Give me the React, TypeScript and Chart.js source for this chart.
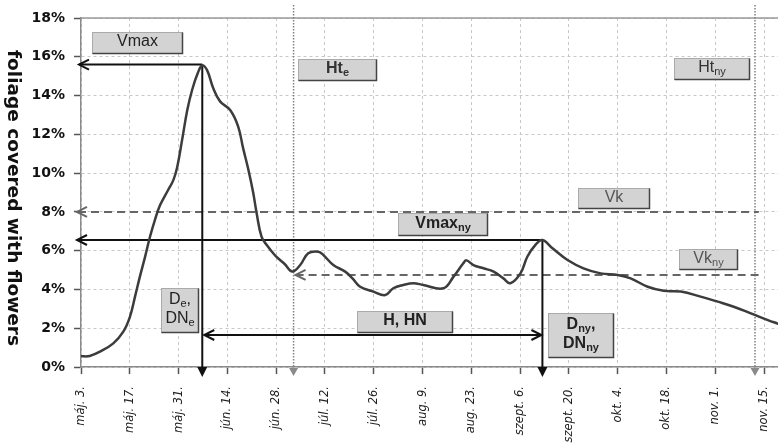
import React, { useEffect, useRef } from "react";
import { Chart, registerables } from "chart.js";

Chart.register(...registerables);

// Days counted from máj. 3.
const dayOffsets = [
  0, 2.5, 5.45, 9.27, 12.14, 14.06, 15.5, 16.9, 18.4, 19.8, 21.2, 22.7, 25.0, 26.5, 27.6, 29.0, 30.5, 31.9,
  33.6, 34.8, 36.2, 37.9, 39.9, 42.8, 45.1, 46.5, 48.0, 49.4, 50.4, 51.8, 53.3, 55.7, 57.1, 58.5, 60.6, 62.9,
  65.2, 68.1, 69.5, 72.4, 75.8, 77.9, 80.1, 83.9, 87.3, 89.6, 92.5, 95.4, 98.2, 104.0, 106.9, 109.7,
  110.6, 112.6, 115.5, 118.4, 121.2, 123.2, 126.1, 128.1, 130.4, 132.4, 135.3, 139.6, 144.2, 149.1,
  154.0, 157.7, 162.6, 167.2, 172.1, 177.8, 182.7, 187.3, 192.2, 197.1, 200.2,
];
const coverage = [
  0.55, 0.57, 0.79, 1.22, 1.82, 2.6, 3.63, 4.66, 5.69, 6.72, 7.58, 8.35, 9.13, 9.64, 10.3, 11.7, 13.25, 14.3,
  15.2, 15.55, 15.3, 14.4, 13.7, 13.25, 12.4, 11.3, 10.2, 9.0, 7.93, 6.72, 6.29, 5.75, 5.52, 5.3, 4.92, 5.26,
  5.87, 5.95, 5.78, 5.26, 4.92, 4.57, 4.14, 3.89, 3.71, 4.06, 4.23, 4.32, 4.23, 4.06, 4.66, 5.35,
  5.5, 5.26, 5.09, 4.92, 4.57, 4.32, 4.83, 5.7, 6.3, 6.55, 6.12, 5.52, 5.09, 4.83,
  4.74, 4.57, 4.14, 3.93, 3.89, 3.63, 3.37, 3.11, 2.77, 2.42, 2.22,
];

const xTickDays = [0, 14, 28, 42, 56, 70, 84, 98, 112, 126, 140, 154, 168, 182, 196];
const xTickLabels = [
  "máj. 3.", "máj. 17.", "máj. 31.", "jún. 14.", "jún. 28.", "júl. 12.", "júl. 26.", "aug. 9.",
  "aug. 23.", "szept. 6.", "szept. 20.", "okt. 4.", "okt. 18.", "nov. 1.", "nov. 15.",
];
const yTickValues = [0, 2, 4, 6, 8, 10, 12, 14, 16, 18];
const yTitle = "foliage covered with flowers";

// Key values marked on the chart
const vmaxDay = 34.8;
const vmaxValue = 15.6;
const nyPeakDay = 132.4;
const vmaxNyValue = 6.55;
const vkValue = 8;
const vkNyValue = 4.75;
const hteDay = 61;
const htnyDay = 193.4;
const hArrowValue = 1.65;
const thresholdEndDay = 194.5;

type Seg = [string, boolean];
const boxLabels: { day: number; value: number; w: number; h: number; lines: Seg[][]; bold: boolean; color: string }[] = [
  { day: 3.2, value: 17.28, w: 90, h: 21, lines: [[["Vmax", false]]], bold: false, color: "#222" },
  { day: 62.3, value: 15.88, w: 78, h: 21, lines: [[["Ht", false], ["e", true]]], bold: true, color: "#333" },
  { day: 170.2, value: 15.94, w: 75, h: 21, lines: [[["Ht", false], ["ny", true]]], bold: false, color: "#333" },
  { day: 142.6, value: 9.23, w: 71, h: 20, lines: [[["Vk", false]]], bold: false, color: "#555" },
  { day: 91, value: 7.94, w: 89, h: 22, lines: [[["Vmax", false], ["ny", true]]], bold: true, color: "#222" },
  { day: 171.6, value: 6.09, w: 58, h: 20, lines: [[["Vk", false], ["ny", true]]], bold: false, color: "#555" },
  { day: 79.2, value: 2.89, w: 95, h: 21, lines: [[["H, HN", false]]], bold: true, color: "#222" },
  { day: 23.0, value: 4.07, w: 37, h: 44, lines: [[["D", false], ["e", true], [",", false]], [["DN", false], ["e", true]]], bold: false, color: "#222" },
  { day: 134.0, value: 2.78, w: 65, h: 44, lines: [[["D", false], ["ny", true], [",", false]], [["DN", false], ["ny", true]]], bold: true, color: "#222" },
];

const FONT = '"Liberation Sans", Arial, sans-serif';

function drawRich(ctx: CanvasRenderingContext2D, segs: Seg[], cx: number, cy: number, bold: boolean, color: string) {
  const mainFont = `${bold ? "bold " : ""}16px ${FONT}`;
  const subFont = `${bold ? "bold " : ""}11px ${FONT}`;
  let total = 0;
  segs.forEach(([t, sub]) => {
    ctx.font = sub ? subFont : mainFont;
    total += ctx.measureText(t).width;
  });
  let x = cx - total / 2;
  ctx.textBaseline = "middle";
  ctx.textAlign = "left";
  ctx.fillStyle = color;
  segs.forEach(([t, sub]) => {
    ctx.font = sub ? subFont : mainFont;
    ctx.fillText(t, x, sub ? cy + 4 : cy);
    x += ctx.measureText(t).width;
  });
}

function openArrow(ctx: CanvasRenderingContext2D, tx: number, ty: number, dir: "left" | "right", color: string, lw: number) {
  const s = dir === "left" ? 1 : -1;
  ctx.save();
  ctx.setLineDash([]);
  ctx.strokeStyle = color;
  ctx.lineWidth = lw;
  ctx.beginPath();
  ctx.moveTo(tx + s * 10, ty - 5);
  ctx.lineTo(tx, ty);
  ctx.lineTo(tx + s * 10, ty + 5);
  ctx.stroke();
  ctx.restore();
}

function downTriangle(ctx: CanvasRenderingContext2D, x: number, tipY: number, color: string, hw: number, h: number) {
  ctx.save();
  ctx.fillStyle = color;
  ctx.beginPath();
  ctx.moveTo(x - hw, tipY - h);
  ctx.lineTo(x + hw, tipY - h);
  ctx.lineTo(x, tipY);
  ctx.closePath();
  ctx.fill();
  ctx.restore();
}

const annotationPlugin = {
  id: "annotations",
  beforeDatasetsDraw(chart: any) {
    const ctx: CanvasRenderingContext2D = chart.ctx;
    const xs = chart.scales.x;
    const ys = chart.scales.y;
    const area = chart.chartArea;
    ctx.save();
    // top border
    ctx.strokeStyle = "#999";
    ctx.lineWidth = 1.5;
    ctx.beginPath();
    ctx.moveTo(area.left, ys.getPixelForValue(18));
    ctx.lineTo(area.right, ys.getPixelForValue(18));
    ctx.stroke();

    // dotted Ht lines
    [hteDay, htnyDay].forEach((d) => {
      const x = xs.getPixelForValue(d);
      ctx.strokeStyle = "#808080";
      ctx.lineWidth = 1.5;
      ctx.setLineDash([1.5, 1.5]);
      ctx.beginPath();
      ctx.moveTo(x, 5);
      ctx.lineTo(x, area.bottom + 2);
      ctx.stroke();
      ctx.setLineDash([]);
      downTriangle(ctx, x, area.bottom + 9, "#8a8a8a", 4.5, 8);
    });

    // Vk dashed lines
    const endX = xs.getPixelForValue(thresholdEndDay);
    ctx.strokeStyle = "#666";
    ctx.lineWidth = 2;
    ctx.setLineDash([8, 5]);
    const vkY = ys.getPixelForValue(vkValue);
    ctx.beginPath();
    ctx.moveTo(area.left - 3, vkY);
    ctx.lineTo(endX, vkY);
    ctx.stroke();
    const vknY = ys.getPixelForValue(vkNyValue);
    const hteX = xs.getPixelForValue(hteDay);
    ctx.beginPath();
    ctx.moveTo(hteX + 2, vknY);
    ctx.lineTo(endX, vknY);
    ctx.stroke();
    ctx.setLineDash([]);
    openArrow(ctx, area.left - 4, vkY, "left", "#666", 2);
    openArrow(ctx, hteX + 2, vknY, "left", "#666", 2);

    // Black lines
    ctx.strokeStyle = "#111";
    ctx.lineWidth = 2;
    const vmx = xs.getPixelForValue(vmaxDay);
    const vmy = ys.getPixelForValue(vmaxValue);
    ctx.beginPath();
    ctx.moveTo(area.left - 2, vmy);
    ctx.lineTo(vmx, vmy);
    ctx.moveTo(vmx, vmy);
    ctx.lineTo(vmx, area.bottom + 4);
    ctx.stroke();
    openArrow(ctx, area.left - 2, vmy, "left", "#111", 2);
    downTriangle(ctx, vmx, area.bottom + 10, "#111", 5, 10);

    const nyx = xs.getPixelForValue(nyPeakDay);
    const nyy = ys.getPixelForValue(vmaxNyValue);
    ctx.beginPath();
    ctx.moveTo(area.left - 4, nyy);
    ctx.lineTo(nyx, nyy);
    ctx.moveTo(nyx, nyy);
    ctx.lineTo(nyx, area.bottom + 4);
    ctx.stroke();
    openArrow(ctx, area.left - 4, nyy, "left", "#111", 2);
    downTriangle(ctx, nyx, area.bottom + 10, "#111", 5, 10);

    const hy = ys.getPixelForValue(hArrowValue);
    ctx.beginPath();
    ctx.moveTo(vmx + 2, hy);
    ctx.lineTo(nyx - 1, hy);
    ctx.stroke();
    openArrow(ctx, vmx + 2, hy, "left", "#111", 2);
    openArrow(ctx, nyx - 1, hy, "right", "#111", 2);
    ctx.restore();
  },
  afterDatasetsDraw(chart: any) {
    const ctx: CanvasRenderingContext2D = chart.ctx;
    const xs = chart.scales.x;
    const ys = chart.scales.y;
    ctx.save();
    boxLabels.forEach((b) => {
      const x = Math.round(xs.getPixelForValue(b.day)) + 0.5;
      const y = Math.round(ys.getPixelForValue(b.value)) + 0.5;
      ctx.fillStyle = "#d3d3d3";
      ctx.fillRect(x, y, b.w, b.h);
      ctx.strokeStyle = "#aaa";
      ctx.lineWidth = 1;
      ctx.strokeRect(x, y, b.w, b.h);
      ctx.strokeStyle = "#444";
      ctx.lineWidth = 1.5;
      ctx.beginPath();
      ctx.moveTo(x + b.w, y);
      ctx.lineTo(x + b.w, y + b.h);
      ctx.lineTo(x, y + b.h);
      ctx.stroke();
      const n = b.lines.length;
      b.lines.forEach((segs, i) => {
        const cy = y + b.h / 2 + (i - (n - 1) / 2) * 19 - 1;
        drawRich(ctx, segs, x + b.w / 2, cy, b.bold, b.color);
      });
    });
    ctx.restore();
  },
  afterDraw(chart: any) {
    const ctx: CanvasRenderingContext2D = chart.ctx;
    ctx.save();
    ctx.translate(13, 198);
    ctx.rotate(Math.PI / 2);
    ctx.font = 'bold 18.5px "DejaVu Sans", sans-serif';
    ctx.fillStyle = "#111";
    ctx.textAlign = "center";
    ctx.textBaseline = "middle";
    ctx.fillText(yTitle, 0, 0);
    ctx.restore();
  },
};

export default function App() {
  const ref = useRef<HTMLCanvasElement | null>(null);
  useEffect(() => {
    document.body.style.margin = "0";
    const canvas = ref.current!;
    const chart = new Chart(canvas, {
      type: "line",
      data: {
        datasets: [
          {
            data: dayOffsets.map((d, i) => ({ x: d, y: coverage[i] })),
            borderColor: "#3c3c3c",
            borderWidth: 2.5,
            pointRadius: 0,
            tension: 0.4,
            fill: false,
          },
        ],
      },
      options: {
        responsive: false,
        animation: false,
        events: [],
        layout: { padding: { top: 18, left: 0, right: 0, bottom: 0 } },
        plugins: { legend: { display: false }, tooltip: { enabled: false } },
        scales: {
          x: {
            type: "linear",
            min: 0,
            max: 200,
            afterBuildTicks: (s: any) => {
              s.ticks = xTickDays.map((v) => ({ value: v }));
            },
            afterFit: (s: any) => {
              s.height = 81;
              s.paddingLeft = 0;
              s.paddingRight = 0;
            },
            ticks: {
              autoSkip: false,
              minRotation: 90,
              maxRotation: 90,
              padding: 12,
              color: "#222",
              font: { family: '"DejaVu Sans", sans-serif', size: 11.5, style: "italic" },
              callback: (v: any) => {
                const i = xTickDays.indexOf(Number(v));
                return i >= 0 ? xTickLabels[i] : "";
              },
            },
            grid: {
              color: "#c8c8c8",
              lineWidth: 1,
              drawTicks: true,
              tickLength: 7,
              tickColor: "#555",
              tickWidth: 1.5,
              tickBorderDash: [],
            },
            border: { display: true, color: "#8a8a8a", width: 1.5, dash: [3, 3] },
          },
          y: {
            min: 0,
            max: 18,
            afterBuildTicks: (s: any) => {
              s.ticks = yTickValues.map((v) => ({ value: v }));
            },
            afterFit: (s: any) => {
              s.width = 81;
              s.paddingTop = 0;
              s.paddingBottom = 0;
            },
            ticks: {
              padding: 9,
              color: "#111",
              font: { family: '"DejaVu Sans", sans-serif', size: 14, weight: "bold" },
              callback: (v: any) => `${v}%`,
            },
            grid: {
              color: "#c8c8c8",
              lineWidth: 1,
              drawTicks: true,
              tickLength: 7,
              tickColor: "#555",
              tickWidth: 1.5,
              tickBorderDash: [],
            },
            border: { display: true, color: "#8a8a8a", width: 1.5, dash: [3, 3] },
          },
        },
      } as any,
      plugins: [annotationPlugin],
    });
    return () => chart.destroy();
  }, []);
  return <canvas ref={ref} width={778} height={448} style={{ display: "block", width: 778, height: 448 }} />;
}
